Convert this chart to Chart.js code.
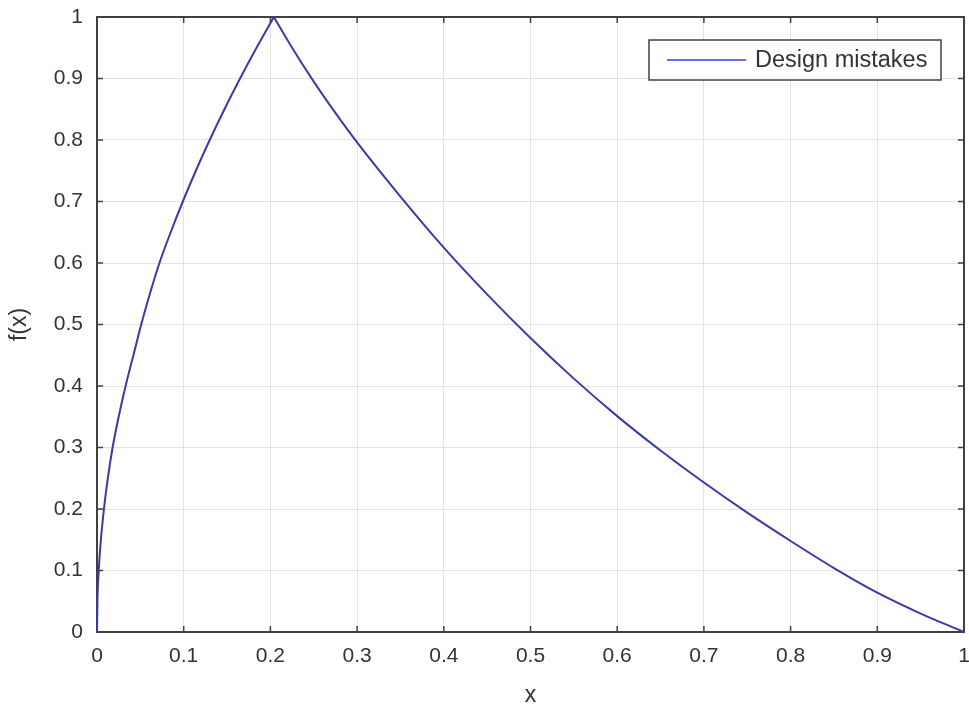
<!DOCTYPE html>
<html><head><meta charset="utf-8">
<script src="https://cdn.jsdelivr.net/npm/chart.js@4/dist/chart.umd.min.js"></script>
<style>html,body{margin:0;padding:0;background:#fff;overflow:hidden}#wrap{width:969px;height:709px;position:relative}</style>
</head><body><div id="wrap"><canvas id="c" width="969" height="709"></canvas></div>
<script>
const seriesName = 'Design mistakes';
// rising branch
const riseX = [0, 0.0005, 0.002, 0.0045, 0.008, 0.0125, 0.018, 0.025, 0.033, 0.042, 0.051, 0.061, 0.072, 0.085, 0.099, 0.114, 0.13, 0.147, 0.165, 0.184, 0.204];
const riseY = [0, 0.05, 0.1, 0.15, 0.2, 0.25, 0.3, 0.35, 0.4, 0.45, 0.5, 0.55, 0.6, 0.65, 0.7, 0.75, 0.8, 0.85, 0.9, 0.95, 1];
// falling branch
const fallX = [0.204, 0.225, 0.25, 0.275, 0.3, 0.35, 0.4, 0.45, 0.5, 0.55, 0.6, 0.65, 0.7, 0.75, 0.8, 0.85, 0.9, 0.95, 1];
const fallY = [1, 0.95, 0.895, 0.844, 0.796, 0.708, 0.625, 0.549, 0.478, 0.412, 0.351, 0.295, 0.243, 0.194, 0.148, 0.104, 0.064, 0.03, 0];
const xTicks = [0, 0.1, 0.2, 0.3, 0.4, 0.5, 0.6, 0.7, 0.8, 0.9, 1];
const yTicks = [0, 0.1, 0.2, 0.3, 0.4, 0.5, 0.6, 0.7, 0.8, 0.9, 1];
const xTitle = 'x';
const yTitle = 'f(x)';

const FONT = "'Liberation Sans', Arial, sans-serif";
const TXT = '#333333';
const LINE = '#3a3aa8';
const toPts = (xs, ys) => xs.map((x, i) => ({x: x, y: ys[i]}));
const fmt = v => String(Math.round(v * 10) / 10);

const framePlugin = {
  id: 'frame',
  beforeDatasetsDraw(chart) {
    const {ctx, chartArea: a, scales} = chart;
    ctx.save();
    ctx.strokeStyle = '#404040';
    ctx.lineWidth = 1.5;
    const tl = 6;
    ctx.beginPath();
    xTicks.forEach(v => {
      const px = scales.x.getPixelForValue(v);
      ctx.moveTo(px, a.bottom); ctx.lineTo(px, a.bottom - tl);
      ctx.moveTo(px, a.top); ctx.lineTo(px, a.top + tl);
    });
    yTicks.forEach(v => {
      const py = scales.y.getPixelForValue(v);
      ctx.moveTo(a.left, py); ctx.lineTo(a.left + tl, py);
      ctx.moveTo(a.right, py); ctx.lineTo(a.right - tl, py);
    });
    ctx.stroke();
    ctx.lineWidth = 2;
    ctx.strokeRect(a.left, a.top, a.right - a.left, a.bottom - a.top);
    ctx.restore();
  },
  afterDraw(chart) {
    const {ctx} = chart;
    ctx.save();
    const bx = 649, by = 40, bw = 292, bh = 40;
    ctx.fillStyle = '#fff';
    ctx.fillRect(bx, by, bw, bh);
    ctx.strokeStyle = '#404040';
    ctx.lineWidth = 1.5;
    ctx.strokeRect(bx, by, bw, bh);
    ctx.strokeStyle = '#6a6af0';
    ctx.lineWidth = 2;
    ctx.beginPath(); ctx.moveTo(667, 60); ctx.lineTo(746, 60); ctx.stroke();
    ctx.fillStyle = TXT;
    ctx.font = '23.5px ' + FONT;
    ctx.textBaseline = 'middle';
    ctx.textAlign = 'left';
    ctx.fillText(chart.data.datasets[0].label, 755, 61);
    ctx.restore();
  }
};

const dsBase = {
  showLine: true,
  borderColor: LINE,
  backgroundColor: LINE,
  borderWidth: 2,
  pointRadius: 0,
  cubicInterpolationMode: 'monotone',
  clip: false
};

new Chart(document.getElementById('c'), {
  type: 'scatter',
  data: {datasets: [
    Object.assign({label: seriesName, data: toPts(riseX, riseY)}, dsBase),
    Object.assign({label: seriesName, data: toPts(fallX, fallY)}, dsBase)
  ]},
  options: {
    responsive: false,
    devicePixelRatio: 1,
    animation: false,
    layout: {padding: {top: 17, right: 5, left: 0, bottom: 0}},
    plugins: {legend: {display: false}, tooltip: {enabled: false}},
    scales: {
      x: {
        type: 'linear', min: 0, max: 1,
        afterBuildTicks: s => { s.ticks = xTicks.map(v => ({value: v})); },
        afterFit: s => { s.height = 77; s.paddingLeft = 0; s.paddingRight = 0; },
        grid: {color: '#e3e3e3', lineWidth: 1, drawTicks: false},
        border: {display: false},
        ticks: {padding: 12, color: TXT, font: {family: FONT, size: 21}, maxRotation: 0, autoSkip: false, callback: fmt},
        title: {display: true, text: xTitle, color: TXT, font: {family: FONT, size: 23}, padding: {top: 0, bottom: 0}}
      },
      y: {
        type: 'linear', min: 0, max: 1,
        afterBuildTicks: s => { s.ticks = yTicks.map(v => ({value: v})); },
        afterFit: s => { s.width = 97; s.paddingTop = 0; s.paddingBottom = 0; },
        grid: {color: '#e3e3e3', lineWidth: 1, drawTicks: false},
        border: {display: false},
        ticks: {padding: 14, color: TXT, font: {family: FONT, size: 21}, autoSkip: false, callback: fmt},
        title: {display: true, text: yTitle, color: TXT, font: {family: FONT, size: 23}, padding: {top: 6, bottom: 0}}
      }
    }
  },
  plugins: [framePlugin]
});
</script></body></html>
